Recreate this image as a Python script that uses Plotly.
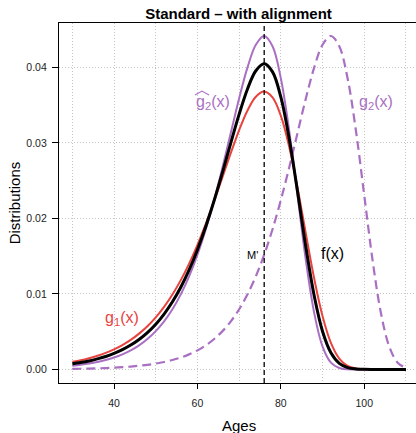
import plotly.graph_objects as go

# Ages (years) at which the densities are tabulated
ages = list(range(30, 111, 2))

# Densities (per year) on the age grid
g1 = [0.00100, 0.00121, 0.00148, 0.00180, 0.00219, 0.00266, 0.00323, 0.00391, 0.00474,
      0.00572, 0.00690, 0.00829, 0.00992, 0.01182, 0.01401, 0.01650, 0.01927, 0.02229,
      0.02546, 0.02867, 0.03170, 0.03429, 0.03611, 0.03679, 0.03601, 0.03356, 0.02946,
      0.02404, 0.01794, 0.01200, 0.00703, 0.00350, 0.00143, 0.00046, 0.00011, 0.00002,
      0.0, 0.0, 0.0, 0.0, 0.0]
g2_hat = [0.00048, 0.00061, 0.00077, 0.00098, 0.00124, 0.00157, 0.00199, 0.00252, 0.00319,
          0.00403, 0.00507, 0.00637, 0.00797, 0.00994, 0.01233, 0.01519, 0.01856, 0.02243,
          0.02674, 0.03133, 0.03590, 0.03999, 0.04299, 0.04415, 0.04279, 0.03853, 0.03160,
          0.02301, 0.01440, 0.00744, 0.00301, 0.00089, 0.00018, 0.00002, 0.0, 0.0,
          0.0, 0.0, 0.0, 0.0, 0.0]
f = [0.00074, 0.00091, 0.00112, 0.00139, 0.00171, 0.00212, 0.00261, 0.00322, 0.00396,
     0.00487, 0.00598, 0.00733, 0.00895, 0.01088, 0.01317, 0.01585, 0.01892, 0.02236,
     0.02610, 0.03000, 0.03380, 0.03714, 0.03955, 0.04047, 0.03940, 0.03604, 0.03053,
     0.02352, 0.01617, 0.00972, 0.00502, 0.00220, 0.00080, 0.00024, 0.00006, 0.00001,
     0.0, 0.0, 0.0, 0.0, 0.0]
g2 = [0.00007, 0.00009, 0.00011, 0.00014, 0.00018, 0.00023, 0.00030, 0.00038, 0.00048,
      0.00061, 0.00077, 0.00098, 0.00124, 0.00157, 0.00199, 0.00252, 0.00319, 0.00403,
      0.00507, 0.00637, 0.00797, 0.00994, 0.01233, 0.01519, 0.01856, 0.02243, 0.02674,
      0.03133, 0.03590, 0.03999, 0.04299, 0.04415, 0.04279, 0.03853, 0.03160, 0.02301,
      0.01440, 0.00744, 0.00301, 0.00089, 0.00018]

# Common modal age after alignment
M_PRIME = 76

x_ticks = [40, 60, 80, 100]
y_ticks = [0.00, 0.01, 0.02, 0.03, 0.04]

RED = "#E8433F"
PURPLE = "#A96FC3"
GRID = "#c4c4c4"
FONT = "Liberation Sans, Arial, Helvetica, sans-serif"

X_RANGE = [26.8, 112.4]
Y_RANGE = [-0.0018, 0.04587]
W, H = 416, 433
M_L, M_R, M_T, M_B = 59, 0, 23, 50

fig = go.Figure()
fig.add_trace(go.Scatter(x=ages, y=g2, mode="lines", line_shape="spline",
                         line=dict(color=PURPLE, width=2.2, dash="9px,5px")))
fig.add_trace(go.Scatter(x=ages, y=g2_hat, mode="lines", line_shape="spline",
                         line=dict(color=PURPLE, width=2)))
fig.add_trace(go.Scatter(x=ages, y=g1, mode="lines", line_shape="spline",
                         line=dict(color=RED, width=2)))
fig.add_trace(go.Scatter(x=ages, y=f, mode="lines", line_shape="spline",
                         line=dict(color="black", width=3)))

# vertical marker at the aligned mode
fig.add_shape(type="line", xref="x", yref="paper", x0=M_PRIME, x1=M_PRIME, y0=0, y1=1,
              line=dict(color="black", width=1.3, dash="5px,3px"), layer="above")

# curve labels
labels = [
    ("g<sub>2</sub>(x)", 63.8, 0.0354, PURPLE, 16),
    ("g<sub>2</sub>(x)", 102.8, 0.0354, PURPLE, 16),
    ("f(x)", 92.4, 0.0154, "black", 16),
    ("M'", 73.1, 0.01515, "black", 11),
    ("g<sub>1</sub>(x)", 41.8, 0.0068, RED, 16),
]
for text, lx, ly, col, size in labels:
    fig.add_annotation(x=lx, y=ly, xref="x", yref="y", text=text, showarrow=False,
                       xanchor="center", yanchor="middle",
                       font=dict(family=FONT, size=size, color=col))

# wide hat over the first g2 label (offsets in screen pixels)
px_x = (X_RANGE[1] - X_RANGE[0]) / (W - M_L - M_R)
px_y = (Y_RANGE[1] - Y_RANGE[0]) / (H - M_T - M_B)
hx, hy = labels[0][1], labels[0][2]
hat = "M {:.4f},{:.6f} L {:.4f},{:.6f} L {:.4f},{:.6f}".format(
    hx - 18.3 * px_x, hy + 7 * px_y,
    hx - 11.3 * px_x, hy + 11 * px_y,
    hx - 4.3 * px_x, hy + 7 * px_y)
fig.add_shape(type="path", xref="x", yref="y", path=hat,
              line=dict(color=PURPLE, width=1.1))

fig.update_layout(
    width=W, height=H,
    margin=dict(l=M_L, r=M_R, t=M_T, b=M_B),
    paper_bgcolor="white", plot_bgcolor="white",
    showlegend=False,
    font=dict(family=FONT, color="black"),
    title=dict(text="<b>Standard – with alignment</b>", x=(238.5 - M_L) / (W - M_L - M_R),
               xref="paper", xanchor="center", y=1 - 14 / H, yanchor="middle",
               font=dict(family=FONT, size=15, color="black")),
)
fig.update_xaxes(
    range=X_RANGE, tickvals=x_ticks, ticktext=[str(v) for v in x_ticks],
    showline=True, mirror=True, linecolor="black", linewidth=1.2,
    ticks="outside", ticklen=5, tickwidth=1, tickcolor="black",
    tickfont=dict(family=FONT, size=10.5, color="#222"),
    ticklabelstandoff=5,
    showgrid=True, gridcolor=GRID, griddash="1px,2px", gridwidth=1,
    minor=dict(dtick=10, tick0=0, showgrid=True, gridcolor=GRID, griddash="1px,2px", ticks=""),
    zeroline=False,
)
fig.update_yaxes(
    range=Y_RANGE, tickvals=y_ticks, ticktext=["{:.2f}".format(v) for v in y_ticks],
    showline=True, mirror=False, linecolor="black", linewidth=1.2,
    ticks="outside", ticklen=6, tickwidth=1, tickcolor="black",
    tickfont=dict(family=FONT, size=10.5, color="#222"),
    ticklabelstandoff=3,
    showgrid=True, gridcolor=GRID, griddash="1px,2px", gridwidth=1,
    zeroline=False,
)

# axis titles
fig.add_annotation(text="Ages", xref="paper", yref="paper",
                   x=(238.5 - M_L) / (W - M_L - M_R), y=-(425 - (H - M_B)) / (H - M_T - M_B),
                   xanchor="center", yanchor="middle", showarrow=False,
                   font=dict(family=FONT, size=15, color="black"))
fig.add_annotation(text="Distributions", xref="paper", yref="paper",
                   x=-(M_L - 14) / (W - M_L - M_R), y=0.5 + (202.7 - 203) / (H - M_T - M_B),
                   xanchor="center", yanchor="middle", textangle=-90, showarrow=False,
                   font=dict(family=FONT, size=15, color="black"))

fig.write_html("out.html")
